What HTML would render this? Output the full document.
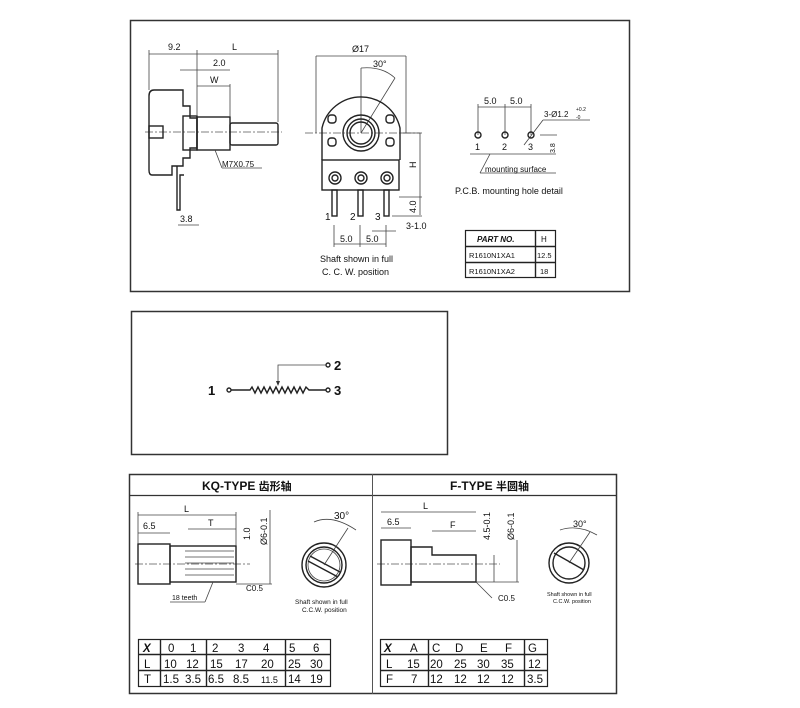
<!DOCTYPE html>
<html><head><meta charset="utf-8"><style>
html,body{margin:0;padding:0;background:#fff}
svg{display:block}
text{font-family:"Liberation Sans",sans-serif;fill:#111}
.s{fill:none;stroke:#222;stroke-width:1.4}
.t{fill:none;stroke:#444;stroke-width:0.8}
.c{fill:none;stroke:#555;stroke-width:0.7;stroke-dasharray:8 2 2 2}
</style></head><body>
<svg width="800" height="708" viewBox="0 0 800 708" xmlns="http://www.w3.org/2000/svg">
<rect x="130.5" y="20.5" width="499" height="271" fill="none" stroke="#333" stroke-width="1.5"/>
<line class="c" x1="145" y1="132" x2="282" y2="132"/>
<path class="s" d="M154,90 H183 V106 H190 V118 H197 V148 H190 V158 H183 V166 H172 V175 H152 Q149,175 149,170 V96 Q149,90 154,90 Z"/>
<rect class="s" x="183" y="116" width="14" height="34"/>
<rect class="s" x="197" y="117" width="33" height="33"/>
<rect class="s" x="230" y="123" width="48" height="22" rx="2"/>
<rect class="s" x="149" y="126" width="14" height="12"/>
<path class="s" d="M177,166 V210 H180 V175 H184"/>
<line class="t" x1="149" y1="54" x2="278" y2="54"/><line class="t" x1="149" y1="50" x2="149" y2="90"/><line class="t" x1="278" y1="50" x2="278" y2="122"/>
<line class="t" x1="197" y1="50" x2="197" y2="116"/>
<text x="168" y="50" font-size="9">9.2</text><text x="232" y="50" font-size="9">L</text>
<line class="t" x1="180" y1="70" x2="230" y2="70"/><text x="213" y="66" font-size="9">2.0</text>
<line class="t" x1="197" y1="86" x2="230" y2="86"/><line class="t" x1="230" y1="84" x2="230" y2="117"/><text x="210" y="83" font-size="9">W</text>
<line class="t" x1="215" y1="150" x2="222" y2="168"/><line class="t" x1="222" y1="168" x2="262" y2="168"/>
<text x="222" y="167" font-size="8">M7X0.75</text>
<line class="t" x1="178" y1="225" x2="199" y2="225"/><text x="180" y="222" font-size="9">3.8</text>
<line class="c" x1="305" y1="133" x2="420" y2="133"/>
<line class="t" x1="316" y1="56" x2="406" y2="56"/><line class="t" x1="316" y1="56" x2="316" y2="133"/><line class="t" x1="406" y1="56" x2="406" y2="133"/>
<text x="352" y="52" font-size="9">Ø17</text><text x="373" y="67" font-size="9">30°</text>
<path class="t" d="M361,68 Q382,66 395,78"/><line class="t" x1="361" y1="68" x2="361" y2="133"/><line class="t" x1="361" y1="133" x2="395" y2="78"/>
<path class="s" d="M322,160 V128 A40,40 0 0 1 400,128 V160"/>
<rect class="s" x="322" y="160" width="77" height="30"/>
<circle class="s" cx="361" cy="133" r="18"/><circle class="s" cx="361" cy="133" r="14"/><circle class="s" cx="361" cy="133" r="11"/>
<rect class="s" x="328" y="115" width="8" height="8" rx="3"/><rect class="s" x="386" y="115" width="8" height="8" rx="3"/>
<rect class="s" x="328" y="138" width="8" height="8" rx="3"/><rect class="s" x="386" y="138" width="8" height="8" rx="3"/>
<circle class="s" cx="335" cy="178" r="6"/><circle class="s" cx="361" cy="178" r="6"/><circle class="s" cx="387" cy="178" r="6"/>
<circle class="s" cx="335" cy="178" r="3"/><circle class="s" cx="361" cy="178" r="3"/><circle class="s" cx="387" cy="178" r="3"/>
<rect class="s" x="332" y="190" width="5" height="26"/><rect class="s" x="358" y="190" width="5" height="26"/><rect class="s" x="384" y="190" width="5" height="26"/>
<text x="325" y="220" font-size="10">1</text><text x="350" y="220" font-size="10">2</text><text x="375" y="220" font-size="10">3</text>
<line class="t" x1="334" y1="225" x2="334" y2="247"/><line class="t" x1="360" y1="225" x2="360" y2="247"/><line class="t" x1="386" y1="225" x2="386" y2="247"/>
<line class="t" x1="334" y1="244" x2="386" y2="244"/>
<text x="340" y="242" font-size="9">5.0</text><text x="366" y="242" font-size="9">5.0</text>
<line class="t" x1="399" y1="133" x2="422" y2="133"/><line class="t" x1="420" y1="133" x2="420" y2="215"/><line class="t" x1="399" y1="197" x2="422" y2="197"/><line class="t" x1="392" y1="216" x2="422" y2="216"/>
<text x="416" y="168" font-size="9" transform="rotate(-90 416 168)">H</text><text x="416" y="213" font-size="9" transform="rotate(-90 416 213)">4.0</text>
<line class="t" x1="372" y1="231" x2="396" y2="231"/><text x="406" y="229" font-size="9">3-1.0</text>
<text x="320" y="262" font-size="9">Shaft shown in full</text><text x="322" y="275" font-size="9">C. C. W.  position</text>
<line class="t" x1="478" y1="104" x2="478" y2="135"/><line class="t" x1="505" y1="104" x2="505" y2="135"/><line class="t" x1="531" y1="104" x2="531" y2="135"/>
<line class="t" x1="478" y1="107" x2="531" y2="107"/>
<text x="484" y="104" font-size="9">5.0</text><text x="510" y="104" font-size="9">5.0</text>
<text x="544" y="117" font-size="8">3-Ø1.2</text><text x="576" y="111" font-size="5">+0.2</text><text x="576" y="119" font-size="5">-0</text>
<line class="t" x1="524" y1="145" x2="543" y2="120"/><line class="t" x1="543" y1="120" x2="590" y2="120"/>
<circle class="s" cx="478" cy="135" r="3"/><circle class="s" cx="505" cy="135" r="3"/><circle class="s" cx="531" cy="135" r="3"/>
<text x="475" y="150" font-size="9">1</text><text x="502" y="150" font-size="9">2</text><text x="528" y="150" font-size="9">3</text>
<line class="t" x1="470" y1="154" x2="556" y2="154"/><line class="t" x1="540" y1="135" x2="557" y2="135"/>
<text x="555" y="153" font-size="7" transform="rotate(-90 555 153)">3.8</text>
<line class="t" x1="490" y1="154" x2="480" y2="173"/><line class="t" x1="480" y1="173" x2="556" y2="173"/>
<text x="485" y="172" font-size="8">mounting surface</text>
<text x="455" y="194" font-size="9">P.C.B.  mounting hole detail</text>
<rect x="465.5" y="230.5" width="90" height="47" fill="none" stroke="#222" stroke-width="1.2"/>
<line class="s" x1="465" y1="246.5" x2="556" y2="246.5"/><line class="s" x1="465" y1="262.5" x2="556" y2="262.5"/><line class="s" x1="535.5" y1="230" x2="535.5" y2="278"/>
<text x="477" y="242" font-size="8" font-style="italic" font-weight="bold">PART NO.</text><text x="541" y="242" font-size="8">H</text>
<text x="469" y="258" font-size="7.5">R1610N1XA1</text><text x="537" y="258" font-size="7.5">12.5</text>
<text x="469" y="274" font-size="7.5">R1610N1XA2</text><text x="540" y="274" font-size="7.5">18</text>
<rect x="131.5" y="311.5" width="316" height="143" fill="none" stroke="#333" stroke-width="1.5"/>
<text x="208" y="395" font-size="13" font-weight="bold">1</text>
<text x="334" y="370" font-size="13" font-weight="bold">2</text>
<text x="334" y="395" font-size="13" font-weight="bold">3</text>
<circle class="s" cx="229" cy="390" r="2"/><circle class="s" cx="328" cy="365" r="2"/><circle class="s" cx="328" cy="390" r="2"/>
<polyline class="s" points="231,390 250,390 252,387 255,393 258,387 261,393 264,387 267,393 270,387 273,393 276,387 279,393 282,387 285,393 288,387 291,393 294,387 297,393 300,387 303,393 306,387 309,390 326,390"/>
<polyline class="t" points="326,365 278,365 278,385"/><path d="M276,381 L278,386 L280,381 Z" fill="#333"/>
<rect x="129.5" y="474.5" width="487" height="219" fill="none" stroke="#333" stroke-width="1.5"/>
<line x1="129" y1="495.5" x2="617" y2="495.5" stroke="#333" stroke-width="1.3"/>
<line x1="372.5" y1="474" x2="372.5" y2="694" stroke="#555"/>
<text x="202" y="490" font-size="12" font-weight="bold" font-family="Liberation Serif,'Noto Serif CJK SC',serif">KQ-TYPE <tspan font-family="'Noto Sans CJK SC',sans-serif" font-size="11">齿形轴</tspan></text>
<text x="450" y="490" font-size="12" font-weight="bold" font-family="Liberation Serif,'Noto Serif CJK SC',serif">F-TYPE <tspan font-family="'Noto Sans CJK SC',sans-serif" font-size="11">半圆轴</tspan></text>
<line class="c" x1="135" y1="564" x2="250" y2="564"/>
<rect class="s" x="138" y="544" width="32" height="40"/>
<rect class="s" x="170" y="546" width="66" height="36"/>
<g class="t"><line x1="185" y1="551" x2="234" y2="551"/><line x1="185" y1="557" x2="234" y2="557"/><line x1="185" y1="563" x2="234" y2="563"/><line x1="185" y1="569" x2="234" y2="569"/><line x1="185" y1="575" x2="234" y2="575"/></g>
<line class="t" x1="138" y1="515" x2="236" y2="515"/><text x="184" y="512" font-size="9">L</text>
<line class="t" x1="138" y1="533" x2="170" y2="533"/><text x="143" y="529" font-size="9">6.5</text>
<line class="t" x1="188" y1="529" x2="236" y2="529"/><text x="208" y="526" font-size="9">T</text>
<line class="t" x1="138" y1="512" x2="138" y2="544"/><line class="t" x1="236" y1="512" x2="236" y2="546"/>
<text x="250" y="540" font-size="9" transform="rotate(-90 250 540)">1.0</text><text x="267" y="545" font-size="9" transform="rotate(-90 267 545)">Ø6-0.1</text>
<line class="t" x1="270" y1="510" x2="270" y2="584"/><line class="t" x1="236" y1="584" x2="272" y2="584"/>
<text x="246" y="591" font-size="8">C0.5</text><text x="172" y="600" font-size="7">18 teeth</text>
<line class="t" x1="170" y1="602" x2="205" y2="602"/><line class="t" x1="205" y1="602" x2="213" y2="582"/>
<circle class="s" cx="324" cy="565" r="22"/><circle class="s" cx="324" cy="565" r="18"/><circle class="t" cx="324" cy="565" r="16"/>
<line class="s" x1="310" y1="556" x2="340" y2="572"/><line class="s" x1="308" y1="561" x2="338" y2="577"/>
<text x="334" y="519" font-size="10">30°</text><path class="t" d="M314,522 Q332,514 356,530"/><line class="t" x1="324" y1="565" x2="348" y2="528"/>
<text x="295" y="604" font-size="6.5">Shaft shown in full</text><text x="302" y="612" font-size="6.5">C.C.W. position</text>
<line class="c" x1="377" y1="564" x2="500" y2="564"/>
<rect class="s" x="381" y="540" width="30" height="45"/>
<path class="s" d="M411,547 H432 V555 H476 V582 H411 Z"/>
<line class="t" x1="381" y1="512" x2="476" y2="512"/><text x="423" y="509" font-size="9">L</text>
<line class="t" x1="381" y1="528" x2="411" y2="528"/><text x="387" y="525" font-size="9">6.5</text>
<line class="t" x1="432" y1="531" x2="476" y2="531"/><text x="450" y="528" font-size="9">F</text>
<text x="490" y="540" font-size="9" transform="rotate(-90 490 540)">4.5-0.1</text><text x="514" y="540" font-size="9" transform="rotate(-90 514 540)">Ø6-0.1</text>
<line class="t" x1="494" y1="555" x2="494" y2="582"/><line class="t" x1="517" y1="540" x2="517" y2="582"/><line class="t" x1="476" y1="582" x2="519" y2="582"/>
<line class="t" x1="476" y1="582" x2="492" y2="598"/><text x="498" y="601" font-size="8">C0.5</text>
<circle class="s" cx="569" cy="563" r="20"/><circle class="s" cx="569" cy="563" r="16"/>
<line class="s" x1="554" y1="553" x2="584" y2="570"/>
<text x="573" y="527" font-size="9">30°</text><path class="t" d="M560,530 Q578,524 597,535"/><line class="t" x1="569" y1="563" x2="590" y2="532"/>
<text x="547" y="596" font-size="5.5">Shaft shown in full</text><text x="553" y="603" font-size="5.5">C.C.W. position</text>
<rect x="138.5" y="639.5" width="192" height="47" fill="none" stroke="#222" stroke-width="1.2"/>
<line class="s" x1="138" y1="654.5" x2="331" y2="654.5"/><line class="s" x1="138" y1="670.5" x2="331" y2="670.5"/>
<line class="s" x1="160.5" y1="639" x2="160.5" y2="687"/><line class="s" x1="206.5" y1="639" x2="206.5" y2="687"/><line class="s" x1="285.5" y1="639" x2="285.5" y2="687"/>
<g font-size="11.5"><text x="143" y="652" font-style="italic" font-weight="bold" font-family="Liberation Serif,serif">X</text>
<text x="168" y="652">0</text><text x="190" y="652">1</text><text x="212" y="652">2</text><text x="238" y="652">3</text><text x="263" y="652">4</text><text x="289" y="652">5</text><text x="313" y="652">6</text>
<text x="144" y="668">L</text><text x="164" y="668">10</text><text x="186" y="668">12</text><text x="210" y="668">15</text><text x="235" y="668">17</text><text x="261" y="668">20</text><text x="288" y="668">25</text><text x="310" y="668">30</text>
<text x="144" y="683">T</text><text x="163" y="683">1.5</text><text x="185" y="683">3.5</text><text x="208" y="683">6.5</text><text x="233" y="683">8.5</text><text x="261" y="683" font-size="9">11.5</text><text x="288" y="683">14</text><text x="310" y="683">19</text></g>
<rect x="380.5" y="639.5" width="167" height="47" fill="none" stroke="#222" stroke-width="1.2"/>
<line class="s" x1="380" y1="654.5" x2="548" y2="654.5"/><line class="s" x1="380" y1="670.5" x2="548" y2="670.5"/>
<line class="s" x1="428.5" y1="639" x2="428.5" y2="687"/><line class="s" x1="524.5" y1="639" x2="524.5" y2="687"/>
<g font-size="11.5"><text x="384" y="652" font-style="italic" font-weight="bold" font-family="Liberation Serif,serif">X</text>
<text x="410" y="652">A</text><text x="432" y="652">C</text><text x="455" y="652">D</text><text x="480" y="652">E</text><text x="505" y="652">F</text><text x="528" y="652">G</text>
<text x="386" y="668">L</text><text x="407" y="668">15</text><text x="430" y="668">20</text><text x="454" y="668">25</text><text x="477" y="668">30</text><text x="501" y="668">35</text><text x="528" y="668">12</text>
<text x="386" y="683">F</text><text x="411" y="683">7</text><text x="430" y="683">12</text><text x="454" y="683">12</text><text x="477" y="683">12</text><text x="501" y="683">12</text><text x="527" y="683">3.5</text></g>
</svg>
</body></html>
